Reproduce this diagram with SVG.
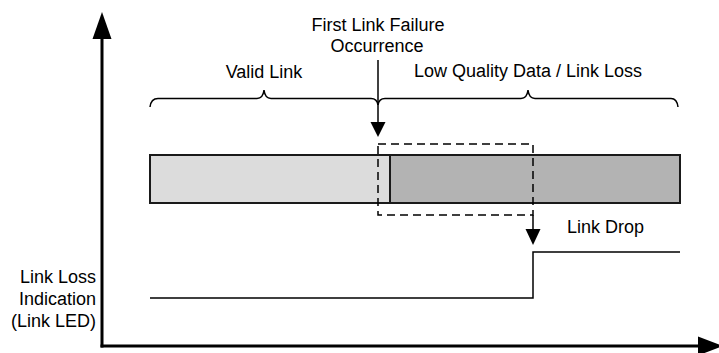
<svg xmlns="http://www.w3.org/2000/svg" width="719" height="353" viewBox="0 0 719 353">
  <style>
    text { font-family: "Liberation Sans", Arial, sans-serif; font-size: 18px; fill: #000; }
    .mid { text-anchor: middle; }
    .end { text-anchor: end; }
    .axis { stroke: #000; stroke-width: 3; fill: none; }
    .thin { stroke: #000; stroke-width: 1.5; fill: none; }
    .bar { stroke: #1a1a1a; stroke-width: 2; }
    .dash { stroke: #000; stroke-width: 1.5; fill: none; stroke-dasharray: 8 5; }
    .head { fill: #000; stroke: none; }
  </style>
  <rect width="719" height="353" fill="#fff"/>

  <g id="axes">
    <line class="axis" x1="102" y1="38" x2="102" y2="347.5"/>
    <polygon class="head" points="102,12 92.5,39 111.5,39"/>
    <line class="axis" x1="100.5" y1="346" x2="699" y2="346"/>
    <polygon class="head" points="723,346 698,336.5 698,355.5"/>
  </g>

  <g id="valid-link-bar">
    <rect class="bar" x="150" y="155" width="240" height="48" fill="#dcdcdc"/>
  </g>
  <g id="low-quality-bar">
    <rect class="bar" x="390" y="155" width="290" height="48" fill="#b3b3b3"/>
  </g>

  <g id="valid-link-brace">
    <path class="thin" d="M150,107 Q151,98.5 158,98.5 L257,98.5 Q263,98.5 264,90 Q265,98.5 271,98.5 L371,98.5 Q377,98.5 378,105"/>
    <text class="mid" x="264" y="78">Valid Link</text>
  </g>
  <g id="low-quality-brace">
    <path class="thin" d="M378,105 Q379,98.5 385,98.5 L521,98.5 Q527,98.5 528,90 Q529,98.5 535,98.5 L671,98.5 Q677,98.5 678,107"/>
    <text class="mid" x="528" y="77">Low Quality Data / Link Loss</text>
  </g>

  <g id="first-failure">
    <text class="mid" x="378" y="31">First Link Failure</text>
    <text class="mid" x="377" y="52">Occurrence</text>
  </g>

  <g id="failure-window">
    <rect class="dash" x="378" y="144" width="155" height="71"/>
  </g>

  <g id="link-drop">
    <text x="567" y="233">Link Drop</text>
  </g>

  <g id="link-loss-label">
    <text class="end" x="96" y="283">Link Loss</text>
    <text class="end" x="96" y="305">Indication</text>
    <text class="end" x="96" y="327">(Link LED)</text>
  </g>

  <g id="connectors">
    <line class="thin" x1="378" y1="60" x2="378" y2="123"/>
    <polygon class="head" points="370.5,122 385.5,122 378,137"/>
    <line class="thin" x1="533" y1="215" x2="533" y2="230"/>
    <polygon class="head" points="525.5,229 540.5,229 533,245"/>
    <polyline class="thin" points="150,298 533,298 533,252 680,252"/>
  </g>
</svg>
